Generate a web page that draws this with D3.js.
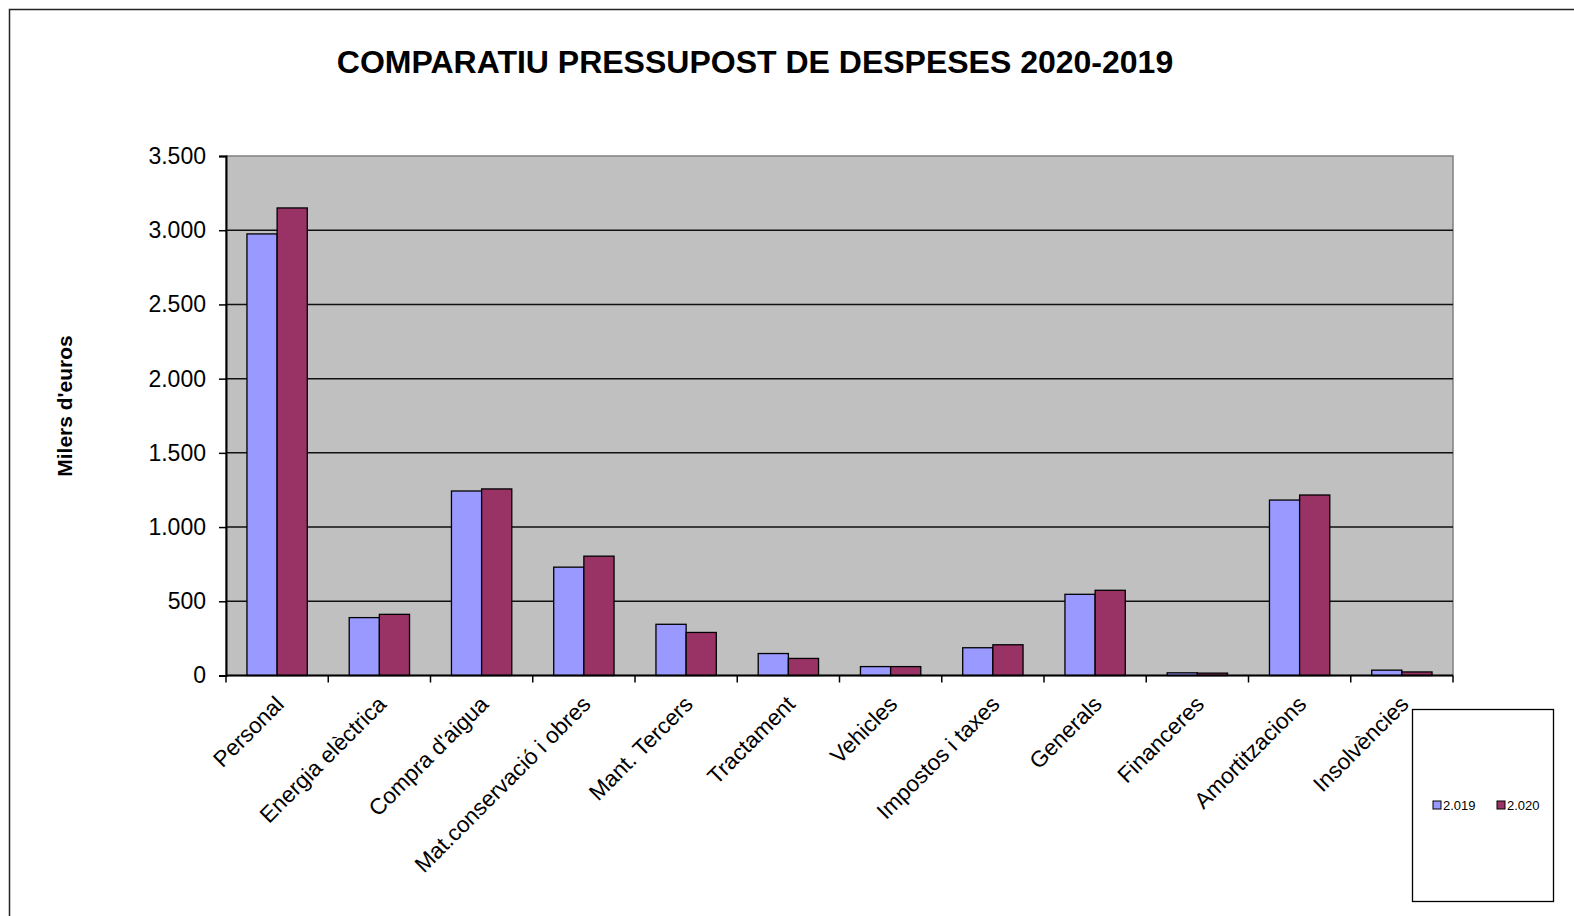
<!DOCTYPE html>
<html>
<head>
<meta charset="utf-8">
<script src="https://cdn.jsdelivr.net/npm/d3@7"></script>
<style>
  html, body { margin: 0; padding: 0; background: #fff; }
  svg { display: block; font-family: "Liberation Sans", Arial, sans-serif; }
</style>
</head>
<body>
<svg id="chart" width="1574" height="916"></svg>
<script>
const categories = ["Personal", "Energia elèctrica", "Compra d'aigua", "Mat.conservació i obres",
  "Mant. Tercers", "Tractament", "Vehicles", "Impostos i taxes", "Generals", "Financeres",
  "Amortitzacions", "Insolvències"];
const seriesNames = ["2.019", "2.020"];
const values2019 = [2975, 390, 1243, 730, 345, 148, 60, 187, 547, 18, 1182, 36];
const values2020 = [3150, 412, 1257, 804, 290, 115, 60, 207, 574, 16, 1216, 24];
const yTicks = [0, 500, 1000, 1500, 2000, 2500, 3000, 3500];
const seriesColors = ["#9999FF", "#993366"];
const titleText = "COMPARATIU PRESSUPOST DE DESPESES 2020-2019";
const yLabelText = "Milers d'euros";

const svg = d3.select("#chart");
const pLeft = 226, pRight = 1453, pTop = 156, pBottom = 675.5;

// outer frame
svg.append("rect").attr("x", 9.5).attr("y", 9.5).attr("width", 1600).attr("height", 1000)
  .attr("fill", "none").attr("stroke", "#222").attr("stroke-width", 1.5);

const x0 = d3.scaleBand().domain(categories).range([pLeft, pRight])
  .paddingInner(0.41).paddingOuter(0.205);
const x1 = d3.scaleBand().domain(seriesNames).range([0, x0.bandwidth()]);
const y = d3.scaleLinear().domain([0, 3500]).range([pBottom, pTop]);
const color = d3.scaleOrdinal().domain(seriesNames).range(seriesColors);

// plot background
svg.append("rect").attr("x", pLeft).attr("y", pTop).attr("width", pRight - pLeft).attr("height", pBottom - pTop)
  .attr("fill", "#C0C0C0").attr("stroke", "#808080").attr("stroke-width", 1.5);

// gridlines
svg.append("g").selectAll("line").data(yTicks.filter(d => d > 0 && d < 3500)).join("line")
  .attr("x1", pLeft).attr("x2", pRight).attr("y1", d => y(d)).attr("y2", d => y(d))
  .attr("stroke", "#111").attr("stroke-width", 1.5);

// bars
const data = categories.map((c, i) => ({cat: c, vals: [
  {s: seriesNames[0], v: values2019[i]}, {s: seriesNames[1], v: values2020[i]}]}));
const g = svg.append("g");
g.selectAll("g").data(data).join("g")
  .attr("transform", d => `translate(${x0(d.cat)},0)`)
  .selectAll("rect").data(d => d.vals).join("rect")
  .attr("x", d => x1(d.s)).attr("width", x1.bandwidth())
  .attr("y", d => y(d.v)).attr("height", d => y(0) - y(d.v))
  .attr("fill", d => color(d.s)).attr("stroke", "#000").attr("stroke-width", 1.3);

// y axis
const fmt = d => d3.format(",")(d).replace(/,/g, ".");
const yAxis = d3.axisLeft(y).tickValues(yTicks).tickFormat(fmt).tickSize(7).tickPadding(13);
const yg = svg.append("g").attr("transform", `translate(${pLeft},0)`).call(yAxis);
yg.select(".domain").attr("stroke", "#000").attr("stroke-width", 2);
yg.selectAll(".tick line").attr("stroke", "#000").attr("stroke-width", 1.5);
yg.selectAll("text").attr("font-size", 23).attr("fill", "#000")
  .attr("font-family", "'Liberation Sans', Arial, sans-serif");

// x axis: ticks at category boundaries
const xb = svg.append("g");
xb.append("line").attr("x1", pLeft).attr("x2", pRight).attr("y1", pBottom).attr("y2", pBottom)
  .attr("stroke", "#000").attr("stroke-width", 2);
xb.selectAll("line.t").data(d3.range(categories.length + 1)).join("line").attr("class", "t")
  .attr("x1", i => pLeft + i * x0.step()).attr("x2", i => pLeft + i * x0.step())
  .attr("y1", pBottom).attr("y2", pBottom + 7).attr("stroke", "#000").attr("stroke-width", 1.5);

xb.selectAll("text").data(categories).join("text")
  .attr("transform", d => `translate(${x0(d) + x0.bandwidth() / 2 - 3},${pBottom + 19}) rotate(-45)`)
  .attr("text-anchor", "end").attr("dy", "0.7em")
  .attr("font-size", 22.5).attr("fill", "#000").text(d => d);

// title
svg.append("text").attr("x", 755).attr("y", 72.5).attr("text-anchor", "middle")
  .attr("font-size", 32).attr("font-weight", "bold").attr("fill", "#000").text(titleText);

// y label
svg.append("text").attr("transform", "translate(72,406) rotate(-90)").attr("text-anchor", "middle")
  .attr("font-size", 21).attr("font-weight", "bold").attr("fill", "#000").text(yLabelText);

// legend
const lg = svg.append("g");
lg.append("rect").attr("x", 1412.5).attr("y", 709.5).attr("width", 141).attr("height", 192)
  .attr("fill", "#fff").attr("stroke", "#000").attr("stroke-width", 1.3);
const items = lg.selectAll("g").data(seriesNames).join("g")
  .attr("transform", (d, i) => `translate(${1433 + i * 64},801)`);
items.append("rect").attr("width", 8).attr("height", 8).attr("fill", d => color(d))
  .attr("stroke", "#000").attr("stroke-width", 1);
items.append("text").attr("x", 10).attr("y", 9).attr("font-size", 13).attr("fill", "#000").text(d => d);
</script>
</body>
</html>
